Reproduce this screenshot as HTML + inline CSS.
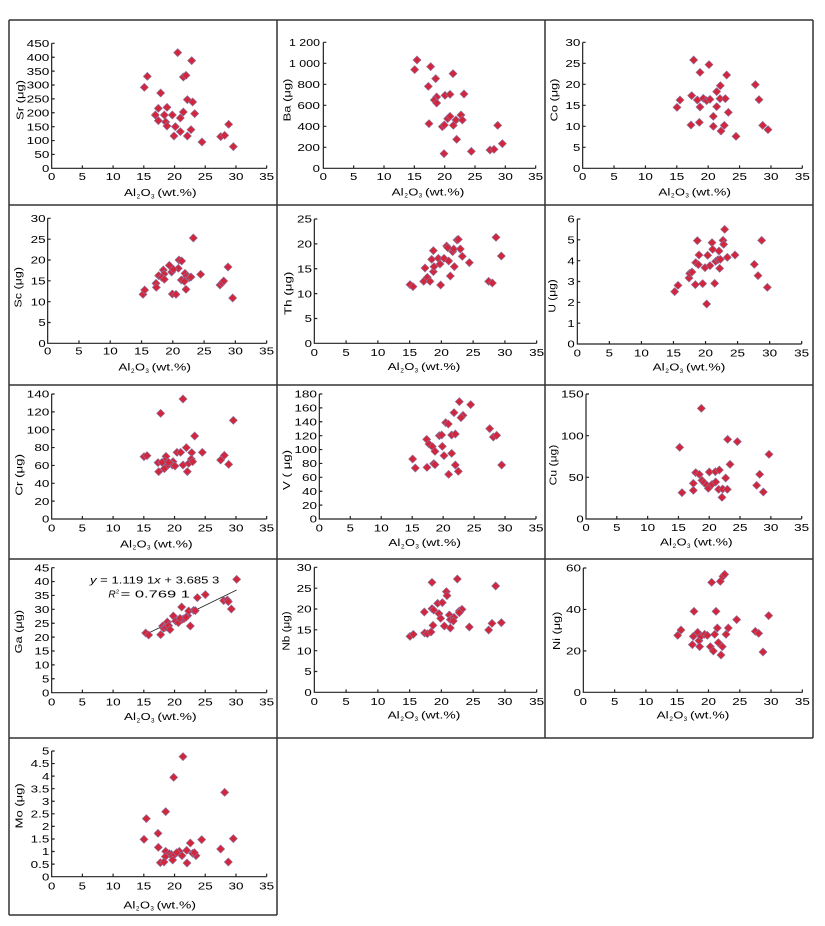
<!DOCTYPE html>
<html><head><meta charset="utf-8"><style>
html,body{margin:0;padding:0;background:#fff}
svg{display:block}
text{font-family:"Liberation Sans",Arial,sans-serif;font-size:31px;fill:#000}
.ax{fill:none;stroke:#222;stroke-width:3.6}
.fr{fill:none;stroke:#333;stroke-width:1.5}
</style></head><body>
<svg width="825" height="926" viewBox="0 0 825 926" xmlns="http://www.w3.org/2000/svg" xmlns:xlink="http://www.w3.org/1999/xlink">
<defs><path id="k" d="M0 -12L12 0L0 12L-12 0Z" fill="#d4263a" stroke="#8c6e9c" stroke-width="2"/></defs>
<rect width="825" height="926" fill="#fff"/>
<path class="fr" d="M9 20H813M9 205H813M9 385H813M9 559H813M9 738H813M9 915H277M9 20V915M277 20V915M545 20V738M813 20V738"/>

<!-- P1 Sr -->
<g transform="translate(0,0) scale(0.333333)">
<path class="ax" d="M155 130V505H800M155 463.3h9M155 421.7h9M155 380h9M155 338.3h9M155 296.7h9M155 255h9M155 213.3h9M155 171.7h9M155 130h9M247.1 505v-9M339.3 505v-9M431.4 505v-9M523.6 505v-9M615.7 505v-9M707.9 505v-9M800 505v-9"/>
<text x="126" y="516" textLength="22" lengthAdjust="spacingAndGlyphs">0</text>
<text x="103" y="474.3" textLength="45" lengthAdjust="spacingAndGlyphs">50</text>
<text x="80" y="432.7" textLength="68" lengthAdjust="spacingAndGlyphs">100</text>
<text x="80" y="391" textLength="68" lengthAdjust="spacingAndGlyphs">150</text>
<text x="80" y="349.3" textLength="68" lengthAdjust="spacingAndGlyphs">200</text>
<text x="80" y="307.7" textLength="68" lengthAdjust="spacingAndGlyphs">250</text>
<text x="80" y="266" textLength="68" lengthAdjust="spacingAndGlyphs">300</text>
<text x="80" y="224.3" textLength="68" lengthAdjust="spacingAndGlyphs">350</text>
<text x="80" y="182.7" textLength="68" lengthAdjust="spacingAndGlyphs">400</text>
<text x="80" y="141" textLength="68" lengthAdjust="spacingAndGlyphs">450</text>
<text x="144" y="540" textLength="22" lengthAdjust="spacingAndGlyphs">0</text>
<text x="236.1" y="540" textLength="22" lengthAdjust="spacingAndGlyphs">5</text>
<text x="316.8" y="540" textLength="45" lengthAdjust="spacingAndGlyphs">10</text>
<text x="408.9" y="540" textLength="45" lengthAdjust="spacingAndGlyphs">15</text>
<text x="501.1" y="540" textLength="45" lengthAdjust="spacingAndGlyphs">20</text>
<text x="593.2" y="540" textLength="45" lengthAdjust="spacingAndGlyphs">25</text>
<text x="685.4" y="540" textLength="45" lengthAdjust="spacingAndGlyphs">30</text>
<text x="777.5" y="540" textLength="45" lengthAdjust="spacingAndGlyphs">35</text>
<text transform="translate(71,300) rotate(-90)" x="-60" y="0" textLength="120" lengthAdjust="spacingAndGlyphs">Sr (μg)</text>
<g transform="translate(372,588)"><text x="0" y="0" textLength="36" lengthAdjust="spacingAndGlyphs">Al</text><text x="38" y="7" style="font-size:19px">2</text><text x="50" y="0" textLength="30" lengthAdjust="spacingAndGlyphs">O</text><text x="81" y="7" style="font-size:19px">3</text><text x="100" y="0" textLength="118" lengthAdjust="spacingAndGlyphs">(wt.%)</text></g>
<use xlink:href="#k" x="533" y="158"/><use xlink:href="#k" x="575" y="182"/><use xlink:href="#k" x="442" y="229"/><use xlink:href="#k" x="550" y="231"/><use xlink:href="#k" x="558" y="226"/><use xlink:href="#k" x="433" y="262"/><use xlink:href="#k" x="482" y="279"/><use xlink:href="#k" x="562" y="299"/><use xlink:href="#k" x="578" y="306"/><use xlink:href="#k" x="475" y="325"/><use xlink:href="#k" x="501" y="322"/><use xlink:href="#k" x="584" y="341"/><use xlink:href="#k" x="550" y="336"/><use xlink:href="#k" x="493" y="345"/><use xlink:href="#k" x="466" y="345"/><use xlink:href="#k" x="517" y="345"/><use xlink:href="#k" x="541" y="354"/><use xlink:href="#k" x="475" y="362"/><use xlink:href="#k" x="497" y="366"/><use xlink:href="#k" x="501" y="378"/><use xlink:href="#k" x="526" y="380"/><use xlink:href="#k" x="573" y="389"/><use xlink:href="#k" x="541" y="395"/><use xlink:href="#k" x="522" y="408"/><use xlink:href="#k" x="562" y="408"/><use xlink:href="#k" x="606" y="426"/><use xlink:href="#k" x="662" y="410"/><use xlink:href="#k" x="674" y="406"/><use xlink:href="#k" x="686" y="373"/><use xlink:href="#k" x="700" y="440"/>
</g>

<!-- P2 Ba -->
<g transform="translate(270,0) scale(0.333333)">
<path class="ax" d="M160 127V505H797M160 442h9M160 379h9M160 316h9M160 253h9M160 190h9M160 127h9M251 505v-9M342 505v-9M433 505v-9M524 505v-9M615 505v-9M706 505v-9M797 505v-9"/>
<text x="128" y="516" textLength="22" lengthAdjust="spacingAndGlyphs">0</text>
<text x="82" y="453" textLength="68" lengthAdjust="spacingAndGlyphs">200</text>
<text x="82" y="390" textLength="68" lengthAdjust="spacingAndGlyphs">400</text>
<text x="82" y="327" textLength="68" lengthAdjust="spacingAndGlyphs">600</text>
<text x="82" y="264" textLength="68" lengthAdjust="spacingAndGlyphs">800</text>
<text x="57" y="201" textLength="93" lengthAdjust="spacingAndGlyphs">1 000</text>
<text x="57" y="138" textLength="93" lengthAdjust="spacingAndGlyphs">1 200</text>
<text x="149" y="540" textLength="22" lengthAdjust="spacingAndGlyphs">0</text>
<text x="240" y="540" textLength="22" lengthAdjust="spacingAndGlyphs">5</text>
<text x="319.5" y="540" textLength="45" lengthAdjust="spacingAndGlyphs">10</text>
<text x="410.5" y="540" textLength="45" lengthAdjust="spacingAndGlyphs">15</text>
<text x="501.5" y="540" textLength="45" lengthAdjust="spacingAndGlyphs">20</text>
<text x="592.5" y="540" textLength="45" lengthAdjust="spacingAndGlyphs">25</text>
<text x="683.5" y="540" textLength="45" lengthAdjust="spacingAndGlyphs">30</text>
<text x="774.5" y="540" textLength="45" lengthAdjust="spacingAndGlyphs">35</text>
<text transform="translate(62,300) rotate(-90)" x="-64" y="0" textLength="128" lengthAdjust="spacingAndGlyphs">Ba (μg)</text>
<g transform="translate(365,586)"><text x="0" y="0" textLength="36" lengthAdjust="spacingAndGlyphs">Al</text><text x="38" y="7" style="font-size:19px">2</text><text x="50" y="0" textLength="30" lengthAdjust="spacingAndGlyphs">O</text><text x="81" y="7" style="font-size:19px">3</text><text x="100" y="0" textLength="118" lengthAdjust="spacingAndGlyphs">(wt.%)</text></g>
<use xlink:href="#k" x="441" y="180"/><use xlink:href="#k" x="434" y="209"/><use xlink:href="#k" x="482" y="200"/><use xlink:href="#k" x="549" y="221"/><use xlink:href="#k" x="497" y="236"/><use xlink:href="#k" x="475" y="259"/><use xlink:href="#k" x="582" y="282"/><use xlink:href="#k" x="525" y="286"/><use xlink:href="#k" x="540" y="283"/><use xlink:href="#k" x="500" y="291"/><use xlink:href="#k" x="493" y="300"/><use xlink:href="#k" x="500" y="309"/><use xlink:href="#k" x="477" y="371"/><use xlink:href="#k" x="517" y="380"/><use xlink:href="#k" x="523" y="375"/><use xlink:href="#k" x="533" y="356"/><use xlink:href="#k" x="540" y="349"/><use xlink:href="#k" x="550" y="376"/><use xlink:href="#k" x="558" y="360"/><use xlink:href="#k" x="573" y="345"/><use xlink:href="#k" x="577" y="360"/><use xlink:href="#k" x="560" y="418"/><use xlink:href="#k" x="522" y="461"/><use xlink:href="#k" x="604" y="454"/><use xlink:href="#k" x="660" y="450"/><use xlink:href="#k" x="672" y="448"/><use xlink:href="#k" x="683" y="376"/><use xlink:href="#k" x="697" y="431"/>
</g>

<!-- P3 Co -->
<g transform="translate(540,0) scale(0.333333)">
<path class="ax" d="M128 127V505H787M128 442h9M128 379h9M128 316h9M128 253h9M128 190h9M128 127h9M222.1 505v-9M316.3 505v-9M410.4 505v-9M504.6 505v-9M598.7 505v-9M692.9 505v-9M787 505v-9"/>
<text x="99" y="516" textLength="22" lengthAdjust="spacingAndGlyphs">0</text>
<text x="99" y="453" textLength="22" lengthAdjust="spacingAndGlyphs">5</text>
<text x="76" y="390" textLength="45" lengthAdjust="spacingAndGlyphs">10</text>
<text x="76" y="327" textLength="45" lengthAdjust="spacingAndGlyphs">15</text>
<text x="76" y="264" textLength="45" lengthAdjust="spacingAndGlyphs">20</text>
<text x="76" y="201" textLength="45" lengthAdjust="spacingAndGlyphs">25</text>
<text x="76" y="138" textLength="45" lengthAdjust="spacingAndGlyphs">30</text>
<text x="117" y="540" textLength="22" lengthAdjust="spacingAndGlyphs">0</text>
<text x="211.1" y="540" textLength="22" lengthAdjust="spacingAndGlyphs">5</text>
<text x="293.8" y="540" textLength="45" lengthAdjust="spacingAndGlyphs">10</text>
<text x="387.9" y="540" textLength="45" lengthAdjust="spacingAndGlyphs">15</text>
<text x="482.1" y="540" textLength="45" lengthAdjust="spacingAndGlyphs">20</text>
<text x="576.2" y="540" textLength="45" lengthAdjust="spacingAndGlyphs">25</text>
<text x="670.4" y="540" textLength="45" lengthAdjust="spacingAndGlyphs">30</text>
<text x="764.5" y="540" textLength="45" lengthAdjust="spacingAndGlyphs">35</text>
<text transform="translate(52,300) rotate(-90)" x="-64" y="0" textLength="128" lengthAdjust="spacingAndGlyphs">Co (μg)</text>
<g transform="translate(355,586)"><text x="0" y="0" textLength="36" lengthAdjust="spacingAndGlyphs">Al</text><text x="38" y="7" style="font-size:19px">2</text><text x="50" y="0" textLength="30" lengthAdjust="spacingAndGlyphs">O</text><text x="81" y="7" style="font-size:19px">3</text><text x="100" y="0" textLength="118" lengthAdjust="spacingAndGlyphs">(wt.%)</text></g>
<use xlink:href="#k" x="461" y="180"/><use xlink:href="#k" x="507" y="194"/><use xlink:href="#k" x="480" y="217"/><use xlink:href="#k" x="560" y="225"/><use xlink:href="#k" x="541" y="257"/><use xlink:href="#k" x="530" y="275"/><use xlink:href="#k" x="455" y="287"/><use xlink:href="#k" x="420" y="300"/><use xlink:href="#k" x="472" y="300"/><use xlink:href="#k" x="490" y="295"/><use xlink:href="#k" x="500" y="302"/><use xlink:href="#k" x="510" y="298"/><use xlink:href="#k" x="540" y="296"/><use xlink:href="#k" x="556" y="296"/><use xlink:href="#k" x="411" y="322"/><use xlink:href="#k" x="480" y="321"/><use xlink:href="#k" x="530" y="320"/><use xlink:href="#k" x="565" y="337"/><use xlink:href="#k" x="520" y="349"/><use xlink:href="#k" x="453" y="375"/><use xlink:href="#k" x="478" y="367"/><use xlink:href="#k" x="520" y="379"/><use xlink:href="#k" x="553" y="376"/><use xlink:href="#k" x="543" y="393"/><use xlink:href="#k" x="588" y="409"/><use xlink:href="#k" x="646" y="254"/><use xlink:href="#k" x="657" y="299"/><use xlink:href="#k" x="668" y="376"/><use xlink:href="#k" x="684" y="389"/>
</g>

<!-- P4 Sc -->
<g transform="translate(0,180) scale(0.333333)">
<path class="ax" d="M143 115V490H800M143 427.5h9M143 365h9M143 302.5h9M143 240h9M143 177.5h9M143 115h9M236.9 490v-9M330.7 490v-9M424.6 490v-9M518.4 490v-9M612.3 490v-9M706.1 490v-9M800 490v-9"/>
<text x="115" y="501" textLength="22" lengthAdjust="spacingAndGlyphs">0</text>
<text x="115" y="438.5" textLength="22" lengthAdjust="spacingAndGlyphs">5</text>
<text x="92" y="376" textLength="45" lengthAdjust="spacingAndGlyphs">10</text>
<text x="92" y="313.5" textLength="45" lengthAdjust="spacingAndGlyphs">15</text>
<text x="92" y="251" textLength="45" lengthAdjust="spacingAndGlyphs">20</text>
<text x="92" y="188.5" textLength="45" lengthAdjust="spacingAndGlyphs">25</text>
<text x="92" y="126" textLength="45" lengthAdjust="spacingAndGlyphs">30</text>
<text x="132" y="524" textLength="22" lengthAdjust="spacingAndGlyphs">0</text>
<text x="225.9" y="524" textLength="22" lengthAdjust="spacingAndGlyphs">5</text>
<text x="308.2" y="524" textLength="45" lengthAdjust="spacingAndGlyphs">10</text>
<text x="402.1" y="524" textLength="45" lengthAdjust="spacingAndGlyphs">15</text>
<text x="495.9" y="524" textLength="45" lengthAdjust="spacingAndGlyphs">20</text>
<text x="589.8" y="524" textLength="45" lengthAdjust="spacingAndGlyphs">25</text>
<text x="683.6" y="524" textLength="45" lengthAdjust="spacingAndGlyphs">30</text>
<text x="777.5" y="524" textLength="45" lengthAdjust="spacingAndGlyphs">35</text>
<text transform="translate(64,322) rotate(-90)" x="-61" y="0" textLength="122" lengthAdjust="spacingAndGlyphs">Sc (μg)</text>
<g transform="translate(355,572)"><text x="0" y="0" textLength="36" lengthAdjust="spacingAndGlyphs">Al</text><text x="38" y="7" style="font-size:19px">2</text><text x="50" y="0" textLength="30" lengthAdjust="spacingAndGlyphs">O</text><text x="81" y="7" style="font-size:19px">3</text><text x="100" y="0" textLength="118" lengthAdjust="spacingAndGlyphs">(wt.%)</text></g>
<use xlink:href="#k" x="580" y="174"/><use xlink:href="#k" x="537" y="240"/><use xlink:href="#k" x="545" y="243"/><use xlink:href="#k" x="535" y="265"/><use xlink:href="#k" x="508" y="256"/><use xlink:href="#k" x="515" y="276"/><use xlink:href="#k" x="490" y="270"/><use xlink:href="#k" x="520" y="268"/><use xlink:href="#k" x="492" y="282"/><use xlink:href="#k" x="476" y="287"/><use xlink:href="#k" x="485" y="292"/><use xlink:href="#k" x="493" y="298"/><use xlink:href="#k" x="468" y="310"/><use xlink:href="#k" x="469" y="322"/><use xlink:href="#k" x="555" y="280"/><use xlink:href="#k" x="560" y="289"/><use xlink:href="#k" x="568" y="293"/><use xlink:href="#k" x="573" y="291"/><use xlink:href="#k" x="602" y="283"/><use xlink:href="#k" x="544" y="300"/><use xlink:href="#k" x="553" y="304"/><use xlink:href="#k" x="429" y="343"/><use xlink:href="#k" x="434" y="330"/><use xlink:href="#k" x="517" y="342"/><use xlink:href="#k" x="528" y="343"/><use xlink:href="#k" x="558" y="328"/><use xlink:href="#k" x="660" y="315"/><use xlink:href="#k" x="666" y="309"/><use xlink:href="#k" x="671" y="303"/><use xlink:href="#k" x="684" y="261"/><use xlink:href="#k" x="698" y="354"/>
</g>

<!-- P5 Th -->
<g transform="translate(275,200) scale(0.333333)">
<path class="ax" d="M118 57V430H785M118 355.4h9M118 280.8h9M118 206.2h9M118 131.6h9M118 57h9M213.3 430v-9M308.6 430v-9M403.9 430v-9M499.1 430v-9M594.4 430v-9M689.7 430v-9M785 430v-9"/>
<text x="89" y="441" textLength="22" lengthAdjust="spacingAndGlyphs">0</text>
<text x="89" y="366.4" textLength="22" lengthAdjust="spacingAndGlyphs">5</text>
<text x="66" y="291.8" textLength="45" lengthAdjust="spacingAndGlyphs">10</text>
<text x="66" y="217.2" textLength="45" lengthAdjust="spacingAndGlyphs">15</text>
<text x="66" y="142.6" textLength="45" lengthAdjust="spacingAndGlyphs">20</text>
<text x="66" y="68" textLength="45" lengthAdjust="spacingAndGlyphs">25</text>
<text x="107" y="468" textLength="22" lengthAdjust="spacingAndGlyphs">0</text>
<text x="202.3" y="468" textLength="22" lengthAdjust="spacingAndGlyphs">5</text>
<text x="286.1" y="468" textLength="45" lengthAdjust="spacingAndGlyphs">10</text>
<text x="381.4" y="468" textLength="45" lengthAdjust="spacingAndGlyphs">15</text>
<text x="476.6" y="468" textLength="45" lengthAdjust="spacingAndGlyphs">20</text>
<text x="571.9" y="468" textLength="45" lengthAdjust="spacingAndGlyphs">25</text>
<text x="667.2" y="468" textLength="45" lengthAdjust="spacingAndGlyphs">30</text>
<text x="762.5" y="468" textLength="45" lengthAdjust="spacingAndGlyphs">35</text>
<text transform="translate(50,280) rotate(-90)" x="-65" y="0" textLength="130" lengthAdjust="spacingAndGlyphs">Th (μg)</text>
<g transform="translate(338,510)"><text x="0" y="0" textLength="36" lengthAdjust="spacingAndGlyphs">Al</text><text x="38" y="7" style="font-size:19px">2</text><text x="50" y="0" textLength="30" lengthAdjust="spacingAndGlyphs">O</text><text x="81" y="7" style="font-size:19px">3</text><text x="100" y="0" textLength="118" lengthAdjust="spacingAndGlyphs">(wt.%)</text></g>
<use xlink:href="#k" x="405" y="254"/><use xlink:href="#k" x="414" y="260"/><use xlink:href="#k" x="446" y="244"/><use xlink:href="#k" x="457" y="232"/><use xlink:href="#k" x="450" y="204"/><use xlink:href="#k" x="470" y="178"/><use xlink:href="#k" x="475" y="152"/><use xlink:href="#k" x="475" y="215"/><use xlink:href="#k" x="465" y="244"/><use xlink:href="#k" x="477" y="200"/><use xlink:href="#k" x="490" y="175"/><use xlink:href="#k" x="495" y="192"/><use xlink:href="#k" x="497" y="255"/><use xlink:href="#k" x="507" y="175"/><use xlink:href="#k" x="515" y="138"/><use xlink:href="#k" x="518" y="143"/><use xlink:href="#k" x="521" y="183"/><use xlink:href="#k" x="526" y="228"/><use xlink:href="#k" x="533" y="155"/><use xlink:href="#k" x="536" y="147"/><use xlink:href="#k" x="538" y="200"/><use xlink:href="#k" x="546" y="120"/><use xlink:href="#k" x="550" y="118"/><use xlink:href="#k" x="556" y="147"/><use xlink:href="#k" x="562" y="169"/><use xlink:href="#k" x="583" y="188"/><use xlink:href="#k" x="641" y="244"/><use xlink:href="#k" x="652" y="249"/><use xlink:href="#k" x="663" y="112"/><use xlink:href="#k" x="679" y="168"/>
</g>

<!-- P6 U -->
<g transform="translate(540,200) scale(0.333333)">
<path class="ax" d="M112 57V432H785M112 369.5h9M112 307h9M112 244.5h9M112 182h9M112 119.5h9M112 57h9M208.1 432v-9M304.3 432v-9M400.4 432v-9M496.6 432v-9M592.7 432v-9M688.9 432v-9M785 432v-9"/>
<text x="82" y="443" textLength="22" lengthAdjust="spacingAndGlyphs">0</text>
<text x="82" y="380.5" textLength="22" lengthAdjust="spacingAndGlyphs">1</text>
<text x="82" y="318" textLength="22" lengthAdjust="spacingAndGlyphs">2</text>
<text x="82" y="255.5" textLength="22" lengthAdjust="spacingAndGlyphs">3</text>
<text x="82" y="193" textLength="22" lengthAdjust="spacingAndGlyphs">4</text>
<text x="82" y="130.5" textLength="22" lengthAdjust="spacingAndGlyphs">5</text>
<text x="82" y="68" textLength="22" lengthAdjust="spacingAndGlyphs">6</text>
<text x="101" y="470" textLength="22" lengthAdjust="spacingAndGlyphs">0</text>
<text x="197.1" y="470" textLength="22" lengthAdjust="spacingAndGlyphs">5</text>
<text x="281.8" y="470" textLength="45" lengthAdjust="spacingAndGlyphs">10</text>
<text x="377.9" y="470" textLength="45" lengthAdjust="spacingAndGlyphs">15</text>
<text x="474.1" y="470" textLength="45" lengthAdjust="spacingAndGlyphs">20</text>
<text x="570.2" y="470" textLength="45" lengthAdjust="spacingAndGlyphs">25</text>
<text x="666.4" y="470" textLength="45" lengthAdjust="spacingAndGlyphs">30</text>
<text x="762.5" y="470" textLength="45" lengthAdjust="spacingAndGlyphs">35</text>
<text transform="translate(47,288) rotate(-90)" x="-50" y="0" textLength="100" lengthAdjust="spacingAndGlyphs">U (μg)</text>
<g transform="translate(338,512)"><text x="0" y="0" textLength="36" lengthAdjust="spacingAndGlyphs">Al</text><text x="38" y="7" style="font-size:19px">2</text><text x="50" y="0" textLength="30" lengthAdjust="spacingAndGlyphs">O</text><text x="81" y="7" style="font-size:19px">3</text><text x="100" y="0" textLength="118" lengthAdjust="spacingAndGlyphs">(wt.%)</text></g>
<use xlink:href="#k" x="404" y="275"/><use xlink:href="#k" x="414" y="256"/><use xlink:href="#k" x="447" y="234"/><use xlink:href="#k" x="449" y="220"/><use xlink:href="#k" x="456" y="216"/><use xlink:href="#k" x="466" y="254"/><use xlink:href="#k" x="472" y="122"/><use xlink:href="#k" x="467" y="188"/><use xlink:href="#k" x="475" y="194"/><use xlink:href="#k" x="477" y="165"/><use xlink:href="#k" x="488" y="251"/><use xlink:href="#k" x="495" y="203"/><use xlink:href="#k" x="500" y="312"/><use xlink:href="#k" x="503" y="166"/><use xlink:href="#k" x="510" y="197"/><use xlink:href="#k" x="516" y="128"/><use xlink:href="#k" x="518" y="148"/><use xlink:href="#k" x="524" y="250"/><use xlink:href="#k" x="527" y="184"/><use xlink:href="#k" x="534" y="179"/><use xlink:href="#k" x="537" y="153"/><use xlink:href="#k" x="539" y="205"/><use xlink:href="#k" x="541" y="178"/><use xlink:href="#k" x="549" y="121"/><use xlink:href="#k" x="551" y="133"/><use xlink:href="#k" x="554" y="88"/><use xlink:href="#k" x="562" y="172"/><use xlink:href="#k" x="585" y="165"/><use xlink:href="#k" x="643" y="193"/><use xlink:href="#k" x="654" y="227"/><use xlink:href="#k" x="665" y="121"/><use xlink:href="#k" x="682" y="262"/>
</g>

<!-- P7 Cr -->
<g transform="translate(0,375) scale(0.333333)">
<path class="ax" d="M155 57V432H800M155 378.4h9M155 324.9h9M155 271.3h9M155 217.7h9M155 164.1h9M155 110.6h9M155 57h9M247.1 432v-9M339.3 432v-9M431.4 432v-9M523.6 432v-9M615.7 432v-9M707.9 432v-9M800 432v-9"/>
<text x="126" y="443" textLength="22" lengthAdjust="spacingAndGlyphs">0</text>
<text x="103" y="389.4" textLength="45" lengthAdjust="spacingAndGlyphs">20</text>
<text x="103" y="335.9" textLength="45" lengthAdjust="spacingAndGlyphs">40</text>
<text x="103" y="282.3" textLength="45" lengthAdjust="spacingAndGlyphs">60</text>
<text x="103" y="228.7" textLength="45" lengthAdjust="spacingAndGlyphs">80</text>
<text x="80" y="175.1" textLength="68" lengthAdjust="spacingAndGlyphs">100</text>
<text x="80" y="121.6" textLength="68" lengthAdjust="spacingAndGlyphs">120</text>
<text x="80" y="68" textLength="68" lengthAdjust="spacingAndGlyphs">140</text>
<text x="144" y="470" textLength="22" lengthAdjust="spacingAndGlyphs">0</text>
<text x="236.1" y="470" textLength="22" lengthAdjust="spacingAndGlyphs">5</text>
<text x="316.8" y="470" textLength="45" lengthAdjust="spacingAndGlyphs">10</text>
<text x="408.9" y="470" textLength="45" lengthAdjust="spacingAndGlyphs">15</text>
<text x="501.1" y="470" textLength="45" lengthAdjust="spacingAndGlyphs">20</text>
<text x="593.2" y="470" textLength="45" lengthAdjust="spacingAndGlyphs">25</text>
<text x="685.4" y="470" textLength="45" lengthAdjust="spacingAndGlyphs">30</text>
<text x="777.5" y="470" textLength="45" lengthAdjust="spacingAndGlyphs">35</text>
<text transform="translate(67,300) rotate(-90)" x="-62" y="0" textLength="125" lengthAdjust="spacingAndGlyphs">Cr (μg)</text>
<g transform="translate(360,517)"><text x="0" y="0" textLength="36" lengthAdjust="spacingAndGlyphs">Al</text><text x="38" y="7" style="font-size:19px">2</text><text x="50" y="0" textLength="30" lengthAdjust="spacingAndGlyphs">O</text><text x="81" y="7" style="font-size:19px">3</text><text x="100" y="0" textLength="118" lengthAdjust="spacingAndGlyphs">(wt.%)</text></g>
<use xlink:href="#k" x="549" y="72"/><use xlink:href="#k" x="482" y="115"/><use xlink:href="#k" x="700" y="136"/><use xlink:href="#k" x="584" y="183"/><use xlink:href="#k" x="559" y="218"/><use xlink:href="#k" x="531" y="232"/><use xlink:href="#k" x="542" y="232"/><use xlink:href="#k" x="575" y="233"/><use xlink:href="#k" x="607" y="232"/><use xlink:href="#k" x="432" y="245"/><use xlink:href="#k" x="441" y="242"/><use xlink:href="#k" x="498" y="244"/><use xlink:href="#k" x="474" y="263"/><use xlink:href="#k" x="494" y="258"/><use xlink:href="#k" x="486" y="262"/><use xlink:href="#k" x="519" y="260"/><use xlink:href="#k" x="517" y="270"/><use xlink:href="#k" x="525" y="273"/><use xlink:href="#k" x="549" y="270"/><use xlink:href="#k" x="566" y="265"/><use xlink:href="#k" x="574" y="252"/><use xlink:href="#k" x="578" y="260"/><use xlink:href="#k" x="500" y="274"/><use xlink:href="#k" x="493" y="281"/><use xlink:href="#k" x="476" y="290"/><use xlink:href="#k" x="562" y="290"/><use xlink:href="#k" x="662" y="255"/><use xlink:href="#k" x="673" y="241"/><use xlink:href="#k" x="686" y="268"/><use xlink:href="#k" x="506" y="262"/>
</g>

<!-- P8 V -->
<g transform="translate(275,375) scale(0.333333)">
<path class="ax" d="M133 57V432H783M133 390.3h9M133 348.7h9M133 307h9M133 265.3h9M133 223.7h9M133 182h9M133 140.3h9M133 98.7h9M133 57h9M225.9 432v-9M318.7 432v-9M411.6 432v-9M504.4 432v-9M597.3 432v-9M690.1 432v-9M783 432v-9"/>
<text x="104" y="443" textLength="22" lengthAdjust="spacingAndGlyphs">0</text>
<text x="81" y="401.3" textLength="45" lengthAdjust="spacingAndGlyphs">20</text>
<text x="81" y="359.7" textLength="45" lengthAdjust="spacingAndGlyphs">40</text>
<text x="81" y="318" textLength="45" lengthAdjust="spacingAndGlyphs">60</text>
<text x="81" y="276.3" textLength="45" lengthAdjust="spacingAndGlyphs">80</text>
<text x="58" y="234.7" textLength="68" lengthAdjust="spacingAndGlyphs">100</text>
<text x="58" y="193" textLength="68" lengthAdjust="spacingAndGlyphs">120</text>
<text x="58" y="151.3" textLength="68" lengthAdjust="spacingAndGlyphs">140</text>
<text x="58" y="109.7" textLength="68" lengthAdjust="spacingAndGlyphs">160</text>
<text x="58" y="68" textLength="68" lengthAdjust="spacingAndGlyphs">180</text>
<text x="122" y="470" textLength="22" lengthAdjust="spacingAndGlyphs">0</text>
<text x="214.9" y="470" textLength="22" lengthAdjust="spacingAndGlyphs">5</text>
<text x="296.2" y="470" textLength="45" lengthAdjust="spacingAndGlyphs">10</text>
<text x="389.1" y="470" textLength="45" lengthAdjust="spacingAndGlyphs">15</text>
<text x="481.9" y="470" textLength="45" lengthAdjust="spacingAndGlyphs">20</text>
<text x="574.8" y="470" textLength="45" lengthAdjust="spacingAndGlyphs">25</text>
<text x="667.6" y="470" textLength="45" lengthAdjust="spacingAndGlyphs">30</text>
<text x="760.5" y="470" textLength="45" lengthAdjust="spacingAndGlyphs">35</text>
<text transform="translate(45,285) rotate(-90)" x="-60" y="0" textLength="120" lengthAdjust="spacingAndGlyphs">V ( μg)</text>
<g transform="translate(340,513)"><text x="0" y="0" textLength="36" lengthAdjust="spacingAndGlyphs">Al</text><text x="38" y="7" style="font-size:19px">2</text><text x="50" y="0" textLength="30" lengthAdjust="spacingAndGlyphs">O</text><text x="81" y="7" style="font-size:19px">3</text><text x="100" y="0" textLength="118" lengthAdjust="spacingAndGlyphs">(wt.%)</text></g>
<use xlink:href="#k" x="553" y="80"/><use xlink:href="#k" x="587" y="89"/><use xlink:href="#k" x="537" y="113"/><use xlink:href="#k" x="564" y="121"/><use xlink:href="#k" x="558" y="128"/><use xlink:href="#k" x="512" y="143"/><use xlink:href="#k" x="520" y="147"/><use xlink:href="#k" x="493" y="182"/><use xlink:href="#k" x="500" y="180"/><use xlink:href="#k" x="530" y="180"/><use xlink:href="#k" x="541" y="177"/><use xlink:href="#k" x="455" y="193"/><use xlink:href="#k" x="462" y="207"/><use xlink:href="#k" x="472" y="215"/><use xlink:href="#k" x="480" y="229"/><use xlink:href="#k" x="502" y="214"/><use xlink:href="#k" x="507" y="242"/><use xlink:href="#k" x="530" y="235"/><use xlink:href="#k" x="413" y="252"/><use xlink:href="#k" x="421" y="279"/><use xlink:href="#k" x="456" y="277"/><use xlink:href="#k" x="476" y="266"/><use xlink:href="#k" x="480" y="269"/><use xlink:href="#k" x="541" y="270"/><use xlink:href="#k" x="521" y="298"/><use xlink:href="#k" x="550" y="289"/><use xlink:href="#k" x="644" y="161"/><use xlink:href="#k" x="655" y="186"/><use xlink:href="#k" x="665" y="181"/><use xlink:href="#k" x="680" y="270"/>
</g>

<!-- P9 Cu -->
<g transform="translate(540,375) scale(0.333333)">
<path class="ax" d="M138 57V432H785M138 307h9M138 182h9M138 57h9M230.4 432v-9M322.9 432v-9M415.3 432v-9M507.7 432v-9M600.1 432v-9M692.6 432v-9M785 432v-9"/>
<text x="109" y="443" textLength="22" lengthAdjust="spacingAndGlyphs">0</text>
<text x="86" y="318" textLength="45" lengthAdjust="spacingAndGlyphs">50</text>
<text x="63" y="193" textLength="68" lengthAdjust="spacingAndGlyphs">100</text>
<text x="63" y="68" textLength="68" lengthAdjust="spacingAndGlyphs">150</text>
<text x="127" y="468" textLength="22" lengthAdjust="spacingAndGlyphs">0</text>
<text x="219.4" y="468" textLength="22" lengthAdjust="spacingAndGlyphs">5</text>
<text x="300.4" y="468" textLength="45" lengthAdjust="spacingAndGlyphs">10</text>
<text x="392.8" y="468" textLength="45" lengthAdjust="spacingAndGlyphs">15</text>
<text x="485.2" y="468" textLength="45" lengthAdjust="spacingAndGlyphs">20</text>
<text x="577.6" y="468" textLength="45" lengthAdjust="spacingAndGlyphs">25</text>
<text x="670.1" y="468" textLength="45" lengthAdjust="spacingAndGlyphs">30</text>
<text x="762.5" y="468" textLength="45" lengthAdjust="spacingAndGlyphs">35</text>
<text transform="translate(50,270) rotate(-90)" x="-61" y="0" textLength="122" lengthAdjust="spacingAndGlyphs">Cu (μg)</text>
<g transform="translate(360,512)"><text x="0" y="0" textLength="36" lengthAdjust="spacingAndGlyphs">Al</text><text x="38" y="7" style="font-size:19px">2</text><text x="50" y="0" textLength="30" lengthAdjust="spacingAndGlyphs">O</text><text x="81" y="7" style="font-size:19px">3</text><text x="100" y="0" textLength="118" lengthAdjust="spacingAndGlyphs">(wt.%)</text></g>
<use xlink:href="#k" x="484" y="100"/><use xlink:href="#k" x="419" y="217"/><use xlink:href="#k" x="563" y="193"/><use xlink:href="#k" x="592" y="200"/><use xlink:href="#k" x="687" y="238"/><use xlink:href="#k" x="570" y="268"/><use xlink:href="#k" x="467" y="293"/><use xlink:href="#k" x="478" y="298"/><use xlink:href="#k" x="508" y="291"/><use xlink:href="#k" x="526" y="290"/><use xlink:href="#k" x="538" y="285"/><use xlink:href="#k" x="557" y="309"/><use xlink:href="#k" x="460" y="325"/><use xlink:href="#k" x="486" y="316"/><use xlink:href="#k" x="492" y="323"/><use xlink:href="#k" x="500" y="330"/><use xlink:href="#k" x="505" y="340"/><use xlink:href="#k" x="516" y="328"/><use xlink:href="#k" x="527" y="321"/><use xlink:href="#k" x="536" y="343"/><use xlink:href="#k" x="548" y="342"/><use xlink:href="#k" x="546" y="367"/><use xlink:href="#k" x="562" y="343"/><use xlink:href="#k" x="426" y="353"/><use xlink:href="#k" x="460" y="346"/><use xlink:href="#k" x="650" y="331"/><use xlink:href="#k" x="659" y="298"/><use xlink:href="#k" x="670" y="351"/>
</g>

<!-- P10 Ga -->
<g transform="translate(0,540) scale(0.333333)">
<path class="ax" d="M155 83V458H800M155 416.3h9M155 374.7h9M155 333h9M155 291.3h9M155 249.7h9M155 208h9M155 166.3h9M155 124.7h9M155 83h9M247.1 458v-9M339.3 458v-9M431.4 458v-9M523.6 458v-9M615.7 458v-9M707.9 458v-9M800 458v-9"/>
<text x="126" y="469" textLength="22" lengthAdjust="spacingAndGlyphs">0</text>
<text x="126" y="427.3" textLength="22" lengthAdjust="spacingAndGlyphs">5</text>
<text x="103" y="385.7" textLength="45" lengthAdjust="spacingAndGlyphs">10</text>
<text x="103" y="344" textLength="45" lengthAdjust="spacingAndGlyphs">15</text>
<text x="103" y="302.3" textLength="45" lengthAdjust="spacingAndGlyphs">20</text>
<text x="103" y="260.7" textLength="45" lengthAdjust="spacingAndGlyphs">25</text>
<text x="103" y="219" textLength="45" lengthAdjust="spacingAndGlyphs">30</text>
<text x="103" y="177.3" textLength="45" lengthAdjust="spacingAndGlyphs">35</text>
<text x="103" y="135.7" textLength="45" lengthAdjust="spacingAndGlyphs">40</text>
<text x="103" y="94" textLength="45" lengthAdjust="spacingAndGlyphs">45</text>
<text x="144" y="496" textLength="22" lengthAdjust="spacingAndGlyphs">0</text>
<text x="236.1" y="496" textLength="22" lengthAdjust="spacingAndGlyphs">5</text>
<text x="316.8" y="496" textLength="45" lengthAdjust="spacingAndGlyphs">10</text>
<text x="408.9" y="496" textLength="45" lengthAdjust="spacingAndGlyphs">15</text>
<text x="501.1" y="496" textLength="45" lengthAdjust="spacingAndGlyphs">20</text>
<text x="593.2" y="496" textLength="45" lengthAdjust="spacingAndGlyphs">25</text>
<text x="685.4" y="496" textLength="45" lengthAdjust="spacingAndGlyphs">30</text>
<text x="777.5" y="496" textLength="45" lengthAdjust="spacingAndGlyphs">35</text>
<text transform="translate(66,275) rotate(-90)" x="-65" y="0" textLength="130" lengthAdjust="spacingAndGlyphs">Ga (μg)</text>
<g transform="translate(372,540)"><text x="0" y="0" textLength="36" lengthAdjust="spacingAndGlyphs">Al</text><text x="38" y="7" style="font-size:19px">2</text><text x="50" y="0" textLength="30" lengthAdjust="spacingAndGlyphs">O</text><text x="81" y="7" style="font-size:19px">3</text><text x="100" y="0" textLength="118" lengthAdjust="spacingAndGlyphs">(wt.%)</text></g>
<text x="270" y="131" textLength="388" lengthAdjust="spacingAndGlyphs"><tspan font-style="italic">y</tspan> = 1.119 1<tspan font-style="italic">x</tspan> + 3.685 3</text>
<text x="325" y="173" font-style="italic" textLength="22" lengthAdjust="spacingAndGlyphs">R</text>
<text x="348" y="160" style="font-size:17px">2</text>
<text x="362" y="173" textLength="208" lengthAdjust="spacingAndGlyphs">= 0.769 1</text>
<path d="M436 284L710 150" stroke="#222" stroke-width="2.5" fill="none"/>
<use xlink:href="#k" x="437" y="279"/><use xlink:href="#k" x="446" y="285"/><use xlink:href="#k" x="482" y="284"/><use xlink:href="#k" x="488" y="258"/><use xlink:href="#k" x="491" y="265"/><use xlink:href="#k" x="502" y="246"/><use xlink:href="#k" x="498" y="262"/><use xlink:href="#k" x="520" y="228"/><use xlink:href="#k" x="527" y="243"/><use xlink:href="#k" x="535" y="248"/><use xlink:href="#k" x="545" y="201"/><use xlink:href="#k" x="547" y="238"/><use xlink:href="#k" x="552" y="236"/><use xlink:href="#k" x="563" y="227"/><use xlink:href="#k" x="566" y="213"/><use xlink:href="#k" x="571" y="258"/><use xlink:href="#k" x="581" y="211"/><use xlink:href="#k" x="586" y="212"/><use xlink:href="#k" x="592" y="173"/><use xlink:href="#k" x="616" y="164"/><use xlink:href="#k" x="671" y="182"/><use xlink:href="#k" x="682" y="180"/><use xlink:href="#k" x="685" y="185"/><use xlink:href="#k" x="694" y="207"/><use xlink:href="#k" x="710" y="118"/><use xlink:href="#k" x="506" y="257"/><use xlink:href="#k" x="510" y="269"/><use xlink:href="#k" x="540" y="235"/><use xlink:href="#k" x="558" y="232"/>
</g>

<!-- P11 Nb -->
<g transform="translate(275,550) scale(0.333333)">
<path class="ax" d="M118 52V427H785M118 364.5h9M118 302h9M118 239.5h9M118 177h9M118 114.5h9M118 52h9M213.3 427v-9M308.6 427v-9M403.9 427v-9M499.1 427v-9M594.4 427v-9M689.7 427v-9M785 427v-9"/>
<text x="88" y="438" textLength="22" lengthAdjust="spacingAndGlyphs">0</text>
<text x="88" y="375.5" textLength="22" lengthAdjust="spacingAndGlyphs">5</text>
<text x="65" y="313" textLength="45" lengthAdjust="spacingAndGlyphs">10</text>
<text x="65" y="250.5" textLength="45" lengthAdjust="spacingAndGlyphs">15</text>
<text x="65" y="188" textLength="45" lengthAdjust="spacingAndGlyphs">20</text>
<text x="65" y="125.5" textLength="45" lengthAdjust="spacingAndGlyphs">25</text>
<text x="65" y="63" textLength="45" lengthAdjust="spacingAndGlyphs">30</text>
<text x="107" y="465" textLength="22" lengthAdjust="spacingAndGlyphs">0</text>
<text x="202.3" y="465" textLength="22" lengthAdjust="spacingAndGlyphs">5</text>
<text x="286.1" y="465" textLength="45" lengthAdjust="spacingAndGlyphs">10</text>
<text x="381.4" y="465" textLength="45" lengthAdjust="spacingAndGlyphs">15</text>
<text x="476.6" y="465" textLength="45" lengthAdjust="spacingAndGlyphs">20</text>
<text x="571.9" y="465" textLength="45" lengthAdjust="spacingAndGlyphs">25</text>
<text x="667.2" y="465" textLength="45" lengthAdjust="spacingAndGlyphs">30</text>
<text x="762.5" y="465" textLength="45" lengthAdjust="spacingAndGlyphs">35</text>
<text transform="translate(43,243) rotate(-90)" x="-59" y="0" textLength="118" lengthAdjust="spacingAndGlyphs">Nb (μg)</text>
<g transform="translate(338,506)"><text x="0" y="0" textLength="36" lengthAdjust="spacingAndGlyphs">Al</text><text x="38" y="7" style="font-size:19px">2</text><text x="50" y="0" textLength="30" lengthAdjust="spacingAndGlyphs">O</text><text x="81" y="7" style="font-size:19px">3</text><text x="100" y="0" textLength="118" lengthAdjust="spacingAndGlyphs">(wt.%)</text></g>
<use xlink:href="#k" x="471" y="97"/><use xlink:href="#k" x="547" y="87"/><use xlink:href="#k" x="662" y="108"/><use xlink:href="#k" x="514" y="125"/><use xlink:href="#k" x="516" y="137"/><use xlink:href="#k" x="488" y="160"/><use xlink:href="#k" x="502" y="158"/><use xlink:href="#k" x="492" y="191"/><use xlink:href="#k" x="497" y="205"/><use xlink:href="#k" x="471" y="176"/><use xlink:href="#k" x="476" y="180"/><use xlink:href="#k" x="448" y="186"/><use xlink:href="#k" x="523" y="195"/><use xlink:href="#k" x="526" y="209"/><use xlink:href="#k" x="537" y="202"/><use xlink:href="#k" x="535" y="213"/><use xlink:href="#k" x="553" y="183"/><use xlink:href="#k" x="561" y="178"/><use xlink:href="#k" x="553" y="188"/><use xlink:href="#k" x="474" y="226"/><use xlink:href="#k" x="508" y="228"/><use xlink:href="#k" x="526" y="234"/><use xlink:href="#k" x="449" y="249"/><use xlink:href="#k" x="457" y="251"/><use xlink:href="#k" x="468" y="246"/><use xlink:href="#k" x="405" y="259"/><use xlink:href="#k" x="415" y="253"/><use xlink:href="#k" x="583" y="231"/><use xlink:href="#k" x="641" y="240"/><use xlink:href="#k" x="651" y="220"/><use xlink:href="#k" x="679" y="218"/>
</g>

<!-- P12 Ni -->
<g transform="translate(540,550) scale(0.333333)">
<path class="ax" d="M130 54V427H787M130 302.7h9M130 178.3h9M130 54h9M223.9 427v-9M317.7 427v-9M411.6 427v-9M505.4 427v-9M599.3 427v-9M693.1 427v-9M787 427v-9"/>
<text x="101" y="438" textLength="22" lengthAdjust="spacingAndGlyphs">0</text>
<text x="78" y="313.7" textLength="45" lengthAdjust="spacingAndGlyphs">20</text>
<text x="78" y="189.3" textLength="45" lengthAdjust="spacingAndGlyphs">40</text>
<text x="78" y="65" textLength="45" lengthAdjust="spacingAndGlyphs">60</text>
<text x="119" y="465" textLength="22" lengthAdjust="spacingAndGlyphs">0</text>
<text x="212.9" y="465" textLength="22" lengthAdjust="spacingAndGlyphs">5</text>
<text x="295.2" y="465" textLength="45" lengthAdjust="spacingAndGlyphs">10</text>
<text x="389.1" y="465" textLength="45" lengthAdjust="spacingAndGlyphs">15</text>
<text x="482.9" y="465" textLength="45" lengthAdjust="spacingAndGlyphs">20</text>
<text x="576.8" y="465" textLength="45" lengthAdjust="spacingAndGlyphs">25</text>
<text x="670.6" y="465" textLength="45" lengthAdjust="spacingAndGlyphs">30</text>
<text x="764.5" y="465" textLength="45" lengthAdjust="spacingAndGlyphs">35</text>
<text transform="translate(60,243) rotate(-90)" x="-57" y="0" textLength="115" lengthAdjust="spacingAndGlyphs">Ni (μg)</text>
<g transform="translate(350,506)"><text x="0" y="0" textLength="36" lengthAdjust="spacingAndGlyphs">Al</text><text x="38" y="7" style="font-size:19px">2</text><text x="50" y="0" textLength="30" lengthAdjust="spacingAndGlyphs">O</text><text x="81" y="7" style="font-size:19px">3</text><text x="100" y="0" textLength="118" lengthAdjust="spacingAndGlyphs">(wt.%)</text></g>
<use xlink:href="#k" x="413" y="256"/><use xlink:href="#k" x="423" y="240"/><use xlink:href="#k" x="457" y="284"/><use xlink:href="#k" x="460" y="259"/><use xlink:href="#k" x="462" y="184"/><use xlink:href="#k" x="473" y="247"/><use xlink:href="#k" x="477" y="272"/><use xlink:href="#k" x="479" y="290"/><use xlink:href="#k" x="483" y="259"/><use xlink:href="#k" x="494" y="253"/><use xlink:href="#k" x="502" y="256"/><use xlink:href="#k" x="511" y="290"/><use xlink:href="#k" x="515" y="97"/><use xlink:href="#k" x="520" y="303"/><use xlink:href="#k" x="528" y="184"/><use xlink:href="#k" x="532" y="234"/><use xlink:href="#k" x="535" y="278"/><use xlink:href="#k" x="541" y="94"/><use xlink:href="#k" x="543" y="315"/><use xlink:href="#k" x="549" y="79"/><use xlink:href="#k" x="554" y="73"/><use xlink:href="#k" x="558" y="253"/><use xlink:href="#k" x="565" y="234"/><use xlink:href="#k" x="590" y="209"/><use xlink:href="#k" x="646" y="244"/><use xlink:href="#k" x="656" y="250"/><use xlink:href="#k" x="669" y="306"/><use xlink:href="#k" x="686" y="197"/><use xlink:href="#k" x="524" y="253"/><use xlink:href="#k" x="547" y="290"/>
</g>

<!-- P13 Mo -->
<g transform="translate(0,726) scale(0.333333)">
<path class="ax" d="M155 75V452H800M155 414.3h9M155 376.6h9M155 338.9h9M155 301.2h9M155 263.5h9M155 225.8h9M155 188.1h9M155 150.4h9M155 112.7h9M155 75h9M247.1 452v-9M339.3 452v-9M431.4 452v-9M523.6 452v-9M615.7 452v-9M707.9 452v-9M800 452v-9"/>
<text x="126" y="463" textLength="22" lengthAdjust="spacingAndGlyphs">0</text>
<text x="92" y="425.3" textLength="56" lengthAdjust="spacingAndGlyphs">0.5</text>
<text x="126" y="387.6" textLength="22" lengthAdjust="spacingAndGlyphs">1</text>
<text x="92" y="349.9" textLength="56" lengthAdjust="spacingAndGlyphs">1.5</text>
<text x="126" y="312.2" textLength="22" lengthAdjust="spacingAndGlyphs">2</text>
<text x="92" y="274.5" textLength="56" lengthAdjust="spacingAndGlyphs">2.5</text>
<text x="126" y="236.8" textLength="22" lengthAdjust="spacingAndGlyphs">3</text>
<text x="92" y="199.1" textLength="56" lengthAdjust="spacingAndGlyphs">3.5</text>
<text x="126" y="161.4" textLength="22" lengthAdjust="spacingAndGlyphs">4</text>
<text x="92" y="123.7" textLength="56" lengthAdjust="spacingAndGlyphs">4.5</text>
<text x="126" y="86" textLength="22" lengthAdjust="spacingAndGlyphs">5</text>
<text x="144" y="490" textLength="22" lengthAdjust="spacingAndGlyphs">0</text>
<text x="236.1" y="490" textLength="22" lengthAdjust="spacingAndGlyphs">5</text>
<text x="316.8" y="490" textLength="45" lengthAdjust="spacingAndGlyphs">10</text>
<text x="408.9" y="490" textLength="45" lengthAdjust="spacingAndGlyphs">15</text>
<text x="501.1" y="490" textLength="45" lengthAdjust="spacingAndGlyphs">20</text>
<text x="593.2" y="490" textLength="45" lengthAdjust="spacingAndGlyphs">25</text>
<text x="685.4" y="490" textLength="45" lengthAdjust="spacingAndGlyphs">30</text>
<text x="777.5" y="490" textLength="45" lengthAdjust="spacingAndGlyphs">35</text>
<text transform="translate(67,240) rotate(-90)" x="-67" y="0" textLength="135" lengthAdjust="spacingAndGlyphs">Mo (μg)</text>
<g transform="translate(370,547)"><text x="0" y="0" textLength="36" lengthAdjust="spacingAndGlyphs">Al</text><text x="38" y="7" style="font-size:19px">2</text><text x="50" y="0" textLength="30" lengthAdjust="spacingAndGlyphs">O</text><text x="81" y="7" style="font-size:19px">3</text><text x="100" y="0" textLength="118" lengthAdjust="spacingAndGlyphs">(wt.%)</text></g>
<use xlink:href="#k" x="549" y="92"/><use xlink:href="#k" x="521" y="154"/><use xlink:href="#k" x="674" y="199"/><use xlink:href="#k" x="497" y="257"/><use xlink:href="#k" x="439" y="278"/><use xlink:href="#k" x="474" y="322"/><use xlink:href="#k" x="432" y="340"/><use xlink:href="#k" x="605" y="341"/><use xlink:href="#k" x="700" y="338"/><use xlink:href="#k" x="571" y="351"/><use xlink:href="#k" x="475" y="364"/><use xlink:href="#k" x="662" y="369"/><use xlink:href="#k" x="497" y="376"/><use xlink:href="#k" x="508" y="383"/><use xlink:href="#k" x="514" y="385"/><use xlink:href="#k" x="538" y="376"/><use xlink:href="#k" x="530" y="380"/><use xlink:href="#k" x="560" y="373"/><use xlink:href="#k" x="578" y="382"/><use xlink:href="#k" x="588" y="389"/><use xlink:href="#k" x="583" y="380"/><use xlink:href="#k" x="496" y="392"/><use xlink:href="#k" x="518" y="391"/><use xlink:href="#k" x="546" y="389"/><use xlink:href="#k" x="481" y="410"/><use xlink:href="#k" x="492" y="408"/><use xlink:href="#k" x="561" y="411"/><use xlink:href="#k" x="685" y="408"/><use xlink:href="#k" x="518" y="402"/>
</g>
</svg>
</body></html>
